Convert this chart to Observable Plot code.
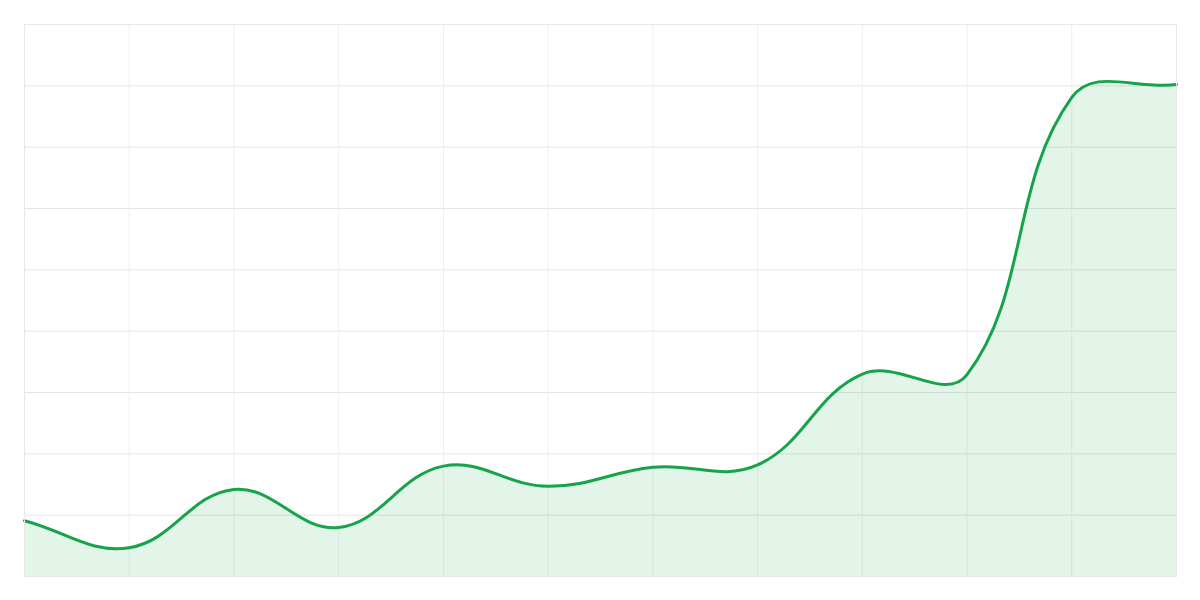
<!DOCTYPE html>
<html>
<head>
<meta charset="utf-8">
<script src="https://cdn.jsdelivr.net/npm/d3@7"></script>
<script src="https://cdn.jsdelivr.net/npm/@observablehq/plot@0.6"></script>
<style>
  html, body { margin: 0; padding: 0; background: #fff; }
  #chart { width: 1200px; height: 600px; }
</style>
</head>
<body>
<div id="chart"></div>
<script>
const steps = [0, 1, 2, 3, 4, 5, 6, 7, 8, 9, 10, 11];
const values = [9.1, 4.7, 14.2, 8.0, 18.0, 14.7, 17.8, 18.2, 33.0, 32.9, 78.1, 80.2];
const yTicks = [0, 10, 20, 30, 40, 50, 60, 70, 80, 90];

const data = steps.map((s, i) => ({step: s, value: values[i]}));

const W = 1200, H = 600, M = 24;
const TENSION = 0.4;

// Tension spline (control points from neighbour distances), clamped to the plot area
function tensionCurve(context) {
  return {
    areaStart() { this._line = 0; },
    areaEnd() { this._line = NaN; },
    lineStart() { this._pts = []; },
    point(x, y) { this._pts.push([+x, +y]); },
    lineEnd() {
      const p = this._pts, n = p.length, ctx = context;
      if (n) {
        if (this._line) ctx.lineTo(p[0][0], p[0][1]); else ctx.moveTo(p[0][0], p[0][1]);
        const cps = p.map((cur, i) => {
          const prev = p[Math.max(i - 1, 0)], next = p[Math.min(i + 1, n - 1)];
          const d01 = Math.hypot(cur[0] - prev[0], cur[1] - prev[1]);
          const d12 = Math.hypot(next[0] - cur[0], next[1] - cur[1]);
          let s01 = d01 / (d01 + d12), s12 = d12 / (d01 + d12);
          if (isNaN(s01)) s01 = 0;
          if (isNaN(s12)) s12 = 0;
          const fa = TENSION * s01, fb = TENSION * s12;
          const cx = v => Math.max(Math.min(v, W - M), M);
          const cy = v => Math.max(Math.min(v, H - M), M);
          return {
            prev: [cx(cur[0] - fa * (next[0] - prev[0])), cy(cur[1] - fa * (next[1] - prev[1]))],
            next: [cx(cur[0] + fb * (next[0] - prev[0])), cy(cur[1] + fb * (next[1] - prev[1]))]
          };
        });
        for (let i = 1; i < n; ++i) {
          const a = cps[i - 1].next, b = cps[i].prev;
          ctx.bezierCurveTo(a[0], a[1], b[0], b[1], p[i][0], p[i][1]);
        }
      }
      if (this._line || (this._line !== 0 && n === 1)) ctx.closePath();
      this._line = 1 - this._line;
    }
  };
}

const chart = Plot.plot({
  width: W,
  height: H,
  marginTop: M,
  marginRight: M,
  marginBottom: M,
  marginLeft: M,
  x: {domain: [0, 11], axis: null},
  y: {domain: [0, 90], axis: null},
  marks: [
    Plot.gridY(yTicks, {stroke: "#e4e4e4", strokeOpacity: 1, strokeWidth: 1}),
    Plot.gridX(steps, {stroke: "#efefef", strokeOpacity: 1, strokeWidth: 1}),
    Plot.areaY(data, {x: "step", y: "value", curve: tensionCurve, fill: "#16a34a", fillOpacity: 0.12}),
    Plot.lineY(data, {x: "step", y: "value", curve: tensionCurve, stroke: "#16a34a", strokeWidth: 3}),
    Plot.frame({stroke: "#e8e8e8", strokeOpacity: 1})
  ]
});
document.getElementById("chart").appendChild(chart);
</script>
</body>
</html>
